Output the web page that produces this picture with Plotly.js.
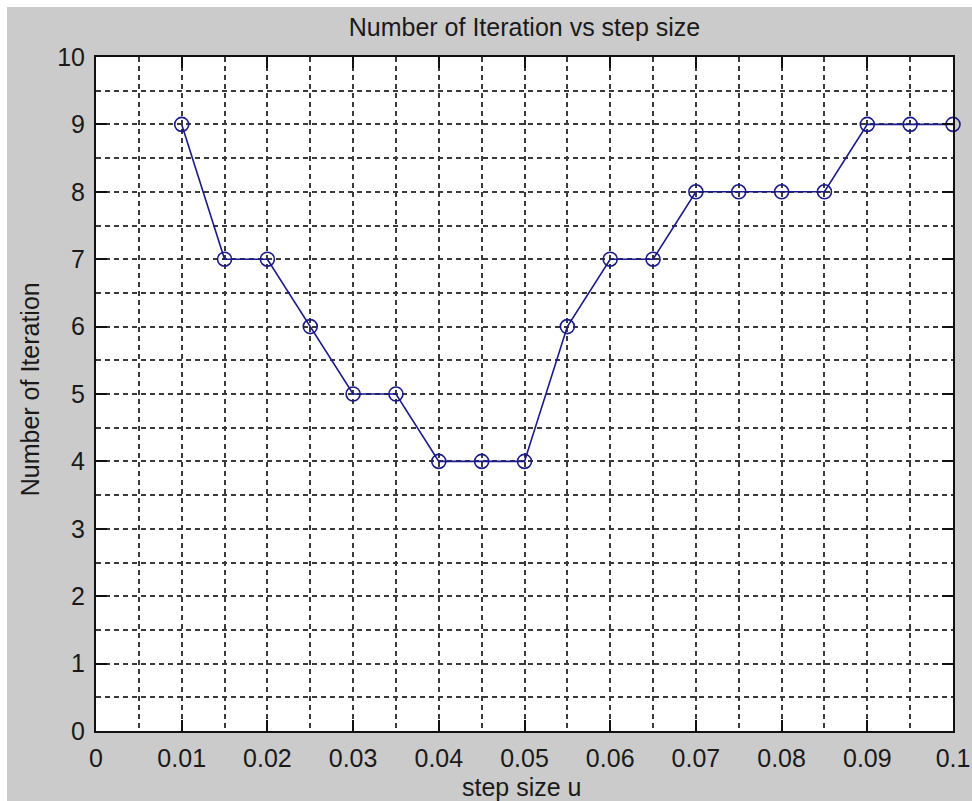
<!DOCTYPE html>
<html>
<head>
<meta charset="utf-8">
<script src="https://cdn.plot.ly/plotly-3.0.1.min.js"></script>
<style>
  html, body { margin: 0; padding: 0; background: #ffffff; }
  #fig { position: absolute; left: 7px; top: 7px; width: 965px; height: 794px; }
</style>
</head>
<body>
<div id="fig"></div>
<script>
// Step size u and the number of iterations needed at each step
var stepSize = [0.01, 0.015, 0.02, 0.025, 0.03, 0.035, 0.04, 0.045, 0.05, 0.055,
                0.06, 0.065, 0.07, 0.075, 0.08, 0.085, 0.09, 0.095, 0.1];
var iterations = [9, 7, 7, 6, 5, 5, 4, 4, 4, 6, 7, 7, 8, 8, 8, 8, 9, 9, 9];

var chartTitle = 'Number of Iteration vs step size';
var xLabel = 'step size u';
var yLabel = 'Number of Iteration';

var FONT = 'Liberation Sans, Arial, sans-serif';
var gridDash = '5px,4px';
var gridColor = '#3a3a3a';

var trace = {
  x: stepSize,
  y: iterations,
  type: 'scatter',
  mode: 'lines+markers',
  cliponaxis: false,
  line: { color: '#1a1a88', width: 1.6 },
  marker: { symbol: 'circle-open', size: 14, color: '#1a1a88', line: { width: 1.6, color: '#1a1a88' } },
  hoverinfo: 'x+y'
};

function axisStyle(range, dtick, minorDtick) {
  return {
    range: range,
    autorange: false,
    dtick: dtick,
    tick0: 0,
    ticks: 'inside',
    ticklen: 11,
    tickwidth: 2,
    tickcolor: '#111111',
    showline: true,
    linecolor: '#111111',
    linewidth: 2,
    mirror: 'ticks',
    showgrid: true,
    gridcolor: gridColor,
    gridwidth: 2,
    griddash: gridDash,
    zeroline: false,
    tickfont: { family: FONT, size: 25, color: '#1a1a1a' },
    minor: {
      dtick: minorDtick,
      tick0: 0,
      showgrid: true,
      gridcolor: gridColor,
      gridwidth: 2,
      griddash: gridDash,
      ticks: ''
    }
  };
}

var xaxis = axisStyle([0, 0.1], 0.01, 0.005);
xaxis.ticklabelstandoff = 4;
var yaxis = axisStyle([0, 10], 1, 0.5);
yaxis.ticklabelstandoff = 4;

var layout = {
  width: 965,
  height: 794,
  paper_bgcolor: '#cbcbcb',
  plot_bgcolor: '#ffffff',
  margin: { l: 89, r: 19, t: 50, b: 70, pad: 0 },
  showlegend: false,
  title: {
    text: chartTitle,
    font: { family: FONT, size: 25, color: '#1a1a1a' },
    xref: 'paper', x: 0.5, xanchor: 'center',
    yref: 'container', y: 0.974, yanchor: 'middle'
  },
  xaxis: xaxis,
  yaxis: yaxis,
  annotations: [
    {
      text: xLabel, showarrow: false,
      xref: 'paper', yref: 'paper', x: 0.5, y: 0,
      xanchor: 'center', yanchor: 'middle', xshift: -3, yshift: -56,
      font: { family: FONT, size: 25, color: '#1a1a1a' }
    },
    {
      text: yLabel, showarrow: false, textangle: -90,
      xref: 'paper', yref: 'paper', x: 0, y: 0.507,
      xanchor: 'center', yanchor: 'middle', xshift: -66,
      font: { family: FONT, size: 25, color: '#1a1a1a' }
    }
  ]
};

Plotly.newPlot('fig', [trace], layout, { displayModeBar: false, staticPlot: true });
</script>
</body>
</html>
